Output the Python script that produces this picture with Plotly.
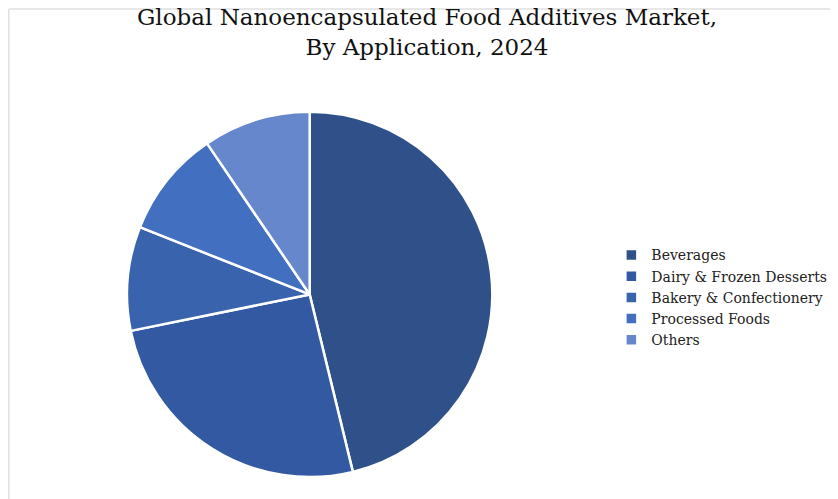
import plotly.graph_objects as go

labels = ["Beverages", "Dairy & Frozen Desserts", "Bakery & Confectionery", "Processed Foods", "Others"]
shares = [46.2, 25.6, 9.2, 9.5, 9.5]
colors = ["#2F5089", "#3459A3", "#3A63AE", "#426FC0", "#6787CD"]

fig = go.Figure(go.Pie(
    labels=labels, values=shares, sort=False, direction="clockwise", rotation=0,
    marker=dict(colors=colors, line=dict(color="white", width=2.5)),
    textinfo="none", hoverinfo="label+percent",
    domain=dict(x=[0.142, 0.578], y=[0.06, 0.792]),
))

fig.update_layout(
    width=838, height=499,
    margin=dict(l=0, r=0, t=0, b=0),
    paper_bgcolor="white",
    font=dict(family="DejaVu Serif, serif", color="#222"),
    title=dict(text="Global Nanoencapsulated Food Additives Market,<br>By Application, 2024",
               x=0.5, xanchor="center", y=0.965, yanchor="top",
               font=dict(size=23, color="#111")),
    legend=dict(x=0.72, y=0.42, xanchor="left", yanchor="middle",
                font=dict(size=14, color="#222"), itemwidth=30),
    shapes=[dict(type="rect", xref="paper", yref="paper", x0=0.001, y0=0.002, x1=0.999, y1=0.998,
                 line=dict(color="#D0D0D0", width=1))],
)

fig.write_html("out.html")
